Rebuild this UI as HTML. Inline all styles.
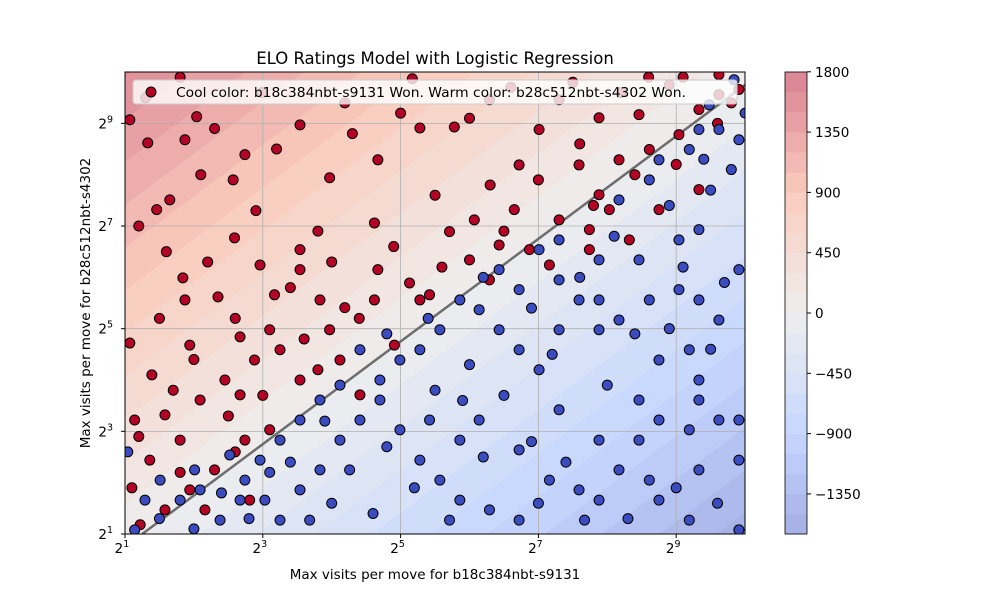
<!DOCTYPE html>
<html>
<head>
<meta charset="utf-8">
<style>
  html, body { margin:0; padding:0; background:#fff; width:1000px; height:600px; overflow:hidden; }
  svg { display:block; font-family:"DejaVu Sans", "Liberation Sans", sans-serif; }
</style>
</head>
<body>
<svg id="chart" width="1000" height="600" viewBox="0 0 1000 600" xmlns="http://www.w3.org/2000/svg" overflow="hidden">
  <defs>
    <clipPath id="plotClip"><rect x="125" y="72" width="620" height="462"/></clipPath>
  </defs>
  <g id="bg" clip-path="url(#plotClip)"></g>
  <g id="grid"></g>
  <g id="fitline" clip-path="url(#plotClip)"></g>
  <g id="points" clip-path="url(#plotClip)"></g>
  <rect x="125" y="72" width="620" height="462" fill="none" stroke="#000" stroke-width="1"/>
  <g id="axes"></g>
  <g id="cbar"></g>
  <text x="435" y="64" text-anchor="middle" font-size="16.5">ELO Ratings Model with Logistic Regression</text>
  <text x="435" y="579" text-anchor="middle" font-size="13.5">Max visits per move for b18c384nbt-s9131</text>
  <text transform="translate(90,303) rotate(-90)" text-anchor="middle" font-size="13.5">Max visits per move for b28c512nbt-s4302</text>
  <g>
    <rect x="133" y="80" width="604" height="24" rx="3" fill="#fff" fill-opacity="0.8" stroke="#ccc"/>
    <circle cx="151" cy="92" r="5" fill="#b40426" stroke="#000" stroke-width="1"/>
    <text x="176" y="97" font-size="13.5" textLength="510" lengthAdjust="spacingAndGlyphs">Cool color: b18c384nbt-s9131 Won. Warm color: b28c512nbt-s4302 Won.</text>
  </g>
</svg>
<script>
// ---- data (log2 of max visits) ----
const redX = [1.07,1.33,1.87,2.04,1.65,1.46,2.57,2.99,2.74,3.54,4.67,3.97,4.19,5.17,5.78,6.29,5.28,7.01,4.62,3.54,2.59,1.84,1.07,1.39,1.87,2.35,2.67,3.17,2.96,3.54,4.19,4.67,5.13,5.71,6.07,6.65,6.87,7.30,7.74,7.88,8.17,8.61,9.04,9.33,9.62,9.91,7.88,7.30,6.72,6.00,5.28,3.97,3.25,2.45,1.94,1.58,1.14,1.36,1.80,2.30,2.74,3.10,3.54,4.12,4.41,2.81,2.16,1.58,1.22,1.94,5.42,6.29,6.43,7.16,7.74,8.32,8.75,9.33,8.03,7.59,8.46,8.90,9.62,2.88,3.83,4.62,4.91,3.10,2.09,2.67,
  1.3,1.8,2.3,3.2,2.1,1.2,1.6,2.9,3.8,4.3,5.0,6.0,6.6,7.5,8.2,8.6,9.1,2.2,3.4,4.0,4.9,5.5,6.3,7.0,7.6,8.4,9.0,9.6,1.5,2.0,2.6,3.6,4.4,5.6,6.5,7.8,1.2,1.7,2.5,3.0,3.8,1.1,1.8,2.6,9.8];
const redY = [9.07,8.62,8.68,9.13,7.51,7.32,7.90,9.60,8.39,8.97,8.29,7.94,9.40,9.87,8.93,9.46,8.91,8.88,7.06,6.54,6.77,5.99,4.72,4.10,5.56,5.62,4.84,5.66,6.24,6.15,5.41,6.15,5.89,6.89,7.12,7.32,6.54,7.12,6.93,7.61,8.29,8.49,8.78,9.27,9.56,9.66,9.11,9.46,8.19,6.34,5.56,4.98,4.59,4.00,4.68,3.32,3.22,2.44,2.83,2.25,2.83,3.03,4.00,4.39,3.71,1.66,1.47,1.47,1.18,1.86,5.66,5.95,6.63,6.24,6.54,6.73,7.32,7.71,7.32,8.19,9.17,9.75,9.95,4.39,5.56,5.56,4.68,4.98,3.61,3.71,
  9.5,9.9,8.9,8.5,8.0,7.0,6.5,7.3,6.9,8.8,9.2,9.1,9.7,9.8,9.6,9.9,9.9,6.3,5.8,6.3,6.6,7.6,7.8,7.9,8.6,8.0,8.2,9.0,5.2,4.4,5.2,4.8,5.2,6.2,6.9,7.4,2.9,3.8,3.3,3.7,4.2,1.9,2.2,2.6,9.4];
const blueX = [1.04,1.51,2.01,2.52,2.74,3.03,3.25,3.54,3.83,4.12,4.41,4.70,4.99,5.28,5.57,5.86,6.29,6.72,7.16,7.59,7.88,8.17,8.46,8.75,9.19,9.62,9.91,9.19,9.91,9.33,8.61,7.88,7.30,7.01,6.72,6.43,6.14,5.86,5.57,5.28,4.99,4.70,4.41,4.12,3.83,3.54,3.25,2.96,2.67,2.38,2.09,1.80,1.29,1.14,6.43,6.72,7.30,7.59,7.88,8.17,8.61,9.04,9.33,9.62,9.91,9.19,8.75,8.46,9.33,9.91,7.88,7.30,8.17,8.61,8.75,9.19,9.33,9.62,9.91,9.84,9.48,9.04,9.33,8.46,7.88,7.30,7.01,6.72,6.14,5.86,5.42,4.26,3.68,5.71,7.67,8.75,9.33,
  1.5,2.0,2.8,3.4,4.0,4.6,5.2,5.5,6.0,6.5,6.9,7.4,8.0,8.4,8.9,9.5,9.7,9.1,8.9,9.5,9.8,9.4,10.0,7.6,8.1,6.9,6.2,5.4,4.8,3.9,3.1,2.4,7.0,8.3,9.6,6.2,4.8,5.9,7.2,9.0];
const blueY = [2.60,2.05,2.25,2.54,2.05,1.66,1.27,1.86,2.25,2.83,3.22,3.61,3.03,2.44,2.05,1.66,1.47,1.27,2.05,1.86,1.66,2.25,2.83,3.22,3.03,3.22,2.44,1.27,1.08,2.25,2.05,2.83,3.42,4.20,4.59,4.98,5.37,5.56,4.98,4.59,4.39,4.00,4.59,3.90,3.61,3.22,2.83,2.44,1.66,1.27,1.86,1.66,1.66,1.08,6.15,5.76,5.95,5.56,5.56,5.17,5.56,5.76,5.56,5.17,6.15,4.59,4.39,3.61,4.00,3.22,4.98,4.98,7.51,7.90,8.29,8.49,8.88,8.88,8.68,9.85,9.36,6.73,6.93,6.34,6.34,6.73,6.54,2.64,3.22,2.83,3.22,2.25,1.27,1.27,1.27,1.66,3.61,
  1.3,1.1,1.3,2.4,1.6,1.4,1.9,3.8,4.3,3.7,2.8,2.4,3.9,4.9,5.0,4.6,5.9,6.2,7.4,7.7,8.1,8.3,9.2,6.0,6.8,5.4,6.0,5.2,4.9,3.2,2.2,1.8,1.6,1.3,1.6,2.5,2.7,3.6,4.5,1.9];
const tickExps = [1,3,5,7,9];
const cbarTicks = [1800,1350,900,450,0,-450,-900,-1350];
const eloPerDoubling = 180;
const boundaryOffset = 0.25;
const axisMin = 1, axisMax = 10;

// ---- scales ----
const X = e => 125 + (e - 1) * 68.9;
const Y = e => 534 - (e - 1) * 51.33;
const CB = v => 313 - v / 450 * 60.3;
const NS = 'http://www.w3.org/2000/svg';
function mk(tag, attrs, parent) {
  const el = document.createElementNS(NS, tag);
  for (const k in attrs) el.setAttribute(k, attrs[k]);
  parent.appendChild(el);
  return el;
}
function coolwarm(t) {
  const stops = [[-1,[59,76,192]],[-0.5,[141,176,254]],[0,[221,221,221]],[0.5,[244,154,123]],[1,[180,4,38]]];
  t = Math.max(-1, Math.min(1, t));
  for (let i = 0; i < stops.length - 1; i++) {
    const [a, ca] = stops[i], [b, cb] = stops[i+1];
    if (t <= b) {
      const f = (t - a) / (b - a);
      const c = ca.map((v, j) => v + (cb[j] - v) * f);
      return 'rgb(' + c.map(v => Math.round(v * 0.5 + 255 * 0.5)).join(',') + ')';
    }
  }
}
// clip polygon to [lo,hi]^2 (Sutherland-Hodgman)
function clipPoly(poly, lo, hi) {
  const edges = [
    p => p[0] >= lo, p => p[0] <= hi, p => p[1] >= lo, p => p[1] <= hi
  ];
  const inter = [
    (a, b) => { const t = (lo - a[0]) / (b[0] - a[0]); return [lo, a[1] + t * (b[1] - a[1])]; },
    (a, b) => { const t = (hi - a[0]) / (b[0] - a[0]); return [hi, a[1] + t * (b[1] - a[1])]; },
    (a, b) => { const t = (lo - a[1]) / (b[1] - a[1]); return [a[0] + t * (b[0] - a[0]), lo]; },
    (a, b) => { const t = (hi - a[1]) / (b[1] - a[1]); return [a[0] + t * (b[0] - a[0]), hi]; }
  ];
  let out = poly;
  for (let k = 0; k < 4; k++) {
    const inp = out; out = [];
    for (let i = 0; i < inp.length; i++) {
      const cur = inp[i], prev = inp[(i + inp.length - 1) % inp.length];
      const ci = edges[k](cur), pi = edges[k](prev);
      if (ci) { if (!pi) out.push(inter[k](prev, cur)); out.push(cur); }
      else if (pi) out.push(inter[k](prev, cur));
    }
    if (!out.length) break;
  }
  return out;
}

// ---- background contour bands ----
const bg = document.getElementById('bg');
for (let lv = -1800; lv < 1800; lv += 150) {
  const d0 = lv / eloPerDoubling - boundaryOffset, d1 = (lv + 150) / eloPerDoubling - boundaryOffset;
  const poly = clipPoly([[-12, -12 + d0], [22, 22 + d0], [22, 22 + d1], [-12, -12 + d1]], axisMin, axisMax);
  if (poly.length < 3) continue;
  const pts = poly.map(p => X(p[0]).toFixed(1) + ',' + Y(p[1]).toFixed(1)).join(' ');
  const col = coolwarm((lv + 75) / 1800);
  const p = mk('polygon', {points: pts, fill: col, stroke: col, 'stroke-width': 0.5}, bg);
  
  
}

// ---- grid & ticks ----
const grid = document.getElementById('grid');
const axes = document.getElementById('axes');
tickExps.forEach(e => {
  const gx = mk('line', {x1: X(e), x2: X(e), y1: 72, y2: 534, stroke: '#b0b0b0', 'stroke-width': 0.8}, grid);
  
  
  const gy = mk('line', {x1: 125, x2: 745, y1: Y(e), y2: Y(e), stroke: '#b0b0b0', 'stroke-width': 0.8}, grid);
  
  
  mk('line', {x1: X(e), x2: X(e), y1: 534, y2: 538, stroke: '#000'}, axes);
  mk('line', {x1: 121, x2: 125, y1: Y(e), y2: Y(e), stroke: '#000'}, axes);
  const tx = mk('text', {x: X(e) - 3, y: 553, 'text-anchor': 'middle', 'font-size': 13.5}, axes);
  
  
  tx.innerHTML = '2<tspan font-size="9.5" dy="-6">' + e + '</tspan>';
  const ty = mk('text', {x: 113, y: Y(e) + 5, 'text-anchor': 'end', 'font-size': 13.5}, axes);
  
  
  ty.innerHTML = '2<tspan font-size="9.5" dy="-6">' + e + '</tspan>';
});

// ---- boundary line ----
const fl = document.getElementById('fitline');
const ln = mk('line', {x1: X(1.25), y1: Y(1.25 - boundaryOffset), x2: X(10), y2: Y(10 - boundaryOffset), stroke: '#666', 'stroke-width': 2.5, 'stroke-opacity': 0.95}, fl);



// ---- points ----
const pg = document.getElementById('points');
redX.forEach((x, i) => {
  const c = mk('circle', {cx: X(x), cy: Y(redY[i]), r: 5, fill: '#b40426', stroke: '#000', 'stroke-width': 1}, pg);
  
  
});
blueX.forEach((x, i) => {
  const c = mk('circle', {cx: X(x), cy: Y(blueY[i]), r: 5, fill: '#3b4cc0', stroke: '#000', 'stroke-width': 1}, pg);
  
  
});

// ---- colorbar ----
const cb = document.getElementById('cbar');
for (let lv = -1650; lv < 1800; lv += 150) {
  const r = mk('rect', {x: 785, y: CB(lv + 150), width: 22, height: CB(lv) - CB(lv + 150) + 0.3, fill: coolwarm((lv + 75) / 1800)}, cb);
  
  
}
mk('rect', {x: 785, y: 72, width: 22, height: 462, fill: 'none', stroke: '#000', 'stroke-width': 0.8}, cb);
cbarTicks.forEach(v => {
  mk('line', {x1: 807, x2: 811, y1: CB(v), y2: CB(v), stroke: '#000'}, cb);
  const t = mk('text', {x: 815, y: CB(v) + 5, 'font-size': 13.5}, cb);
  
  
  t.textContent = v < 0 ? '\u2212' + Math.abs(v) : String(v);
});
</script>
</body>
</html>
